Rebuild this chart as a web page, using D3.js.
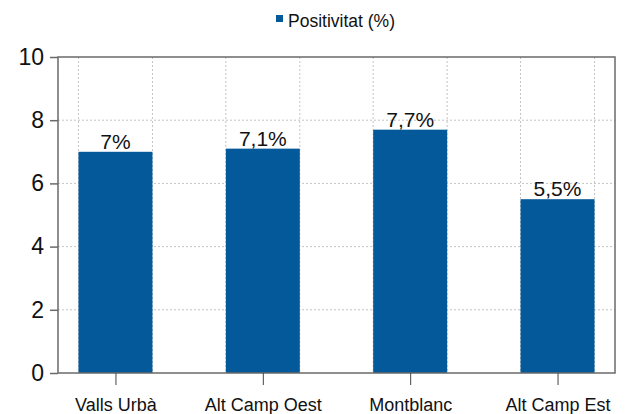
<!DOCTYPE html>
<html>
<head>
<meta charset="utf-8">
<script src="https://cdn.jsdelivr.net/npm/d3@7"></script>
<style>
  body { margin: 0; background: #fff; }
  svg { font-family: "Liberation Sans", Arial, sans-serif; }
</style>
</head>
<body>
<svg width="627" height="414"></svg>
<script>
// data
var categories = ["Valls Urbà", "Alt Camp Oest", "Montblanc", "Alt Camp Est"];
var values = [7, 7.1, 7.7, 5.5];
var valueLabels = ["7%", "7,1%", "7,7%", "5,5%"];
var yTicks = [0, 2, 4, 6, 8, 10];
var seriesName = "Positivitat (%)";

var svg = d3.select("svg"),
    margin = {top: 57, right: 12, bottom: 41, left: 58},
    width = +svg.attr("width") - margin.left - margin.right,
    height = +svg.attr("height") - margin.top - margin.bottom;

var barColor = "#03599a";

var x = d3.scalePoint()
    .domain(categories)
    .range([0, width])
    .padding(0.39);
var barW = 74;

var y = d3.scaleLinear()
    .domain([0, 10])
    .range([height, 0]);

var g = svg.append("g")
    .attr("transform", "translate(" + margin.left + "," + margin.top + ")");

// horizontal grid
g.append("g")
  .selectAll("line")
  .data(yTicks.filter(function(d) { return d > 0 && d < 10; }))
  .join("line")
    .attr("x1", 0).attr("x2", width)
    .attr("y1", function(d) { return y(d); })
    .attr("y2", function(d) { return y(d); })
    .attr("stroke", "#c4c4c4")
    .attr("stroke-dasharray", "2,2");

// vertical grid at bar edges
var edges = [];
categories.forEach(function(c) {
  edges.push(x(c) - barW / 2, x(c) + barW / 2);
});
g.append("g")
  .selectAll("line")
  .data(edges)
  .join("line")
    .attr("x1", function(d) { return d; })
    .attr("x2", function(d) { return d; })
    .attr("y1", 0).attr("y2", height)
    .attr("stroke", "#c4c4c4")
    .attr("stroke-dasharray", "2,2");

// bars
g.append("g")
  .selectAll("rect")
  .data(values)
  .join("rect")
    .attr("x", function(d, i) { return x(categories[i]) - barW / 2; })
    .attr("y", function(d) { return y(d); })
    .attr("width", barW)
    .attr("height", function(d) { return height - y(d); })
    .attr("fill", barColor);

// value labels
g.append("g")
  .selectAll("text")
  .data(values)
  .join("text")
    .attr("x", function(d, i) { return x(categories[i]); })
    .attr("y", function(d) { return y(d) - 3; })
    .attr("text-anchor", "middle")
    .attr("font-size", 21)
    .attr("fill", "#111")
    .text(function(d, i) { return valueLabels[i]; });

// frame
g.append("rect")
    .attr("width", width).attr("height", height)
    .attr("fill", "none")
    .attr("stroke", "#6a6a6a")
    .attr("stroke-width", 1.5);

// y axis
var yAxisG = g.append("g")
    .call(d3.axisLeft(y).tickValues(yTicks).tickSize(8).tickPadding(6));
yAxisG.select(".domain").remove();
yAxisG.selectAll("line").attr("stroke", "#6a6a6a").attr("stroke-width", 1.5);
yAxisG.selectAll("text").attr("font-size", 23).attr("fill", "#111")
    .attr("font-family", "Liberation Sans, Arial, sans-serif");

// x axis
var xAxisG = g.append("g")
    .attr("transform", "translate(0," + height + ")")
    .call(d3.axisBottom(x).tickSize(12).tickPadding(13));
xAxisG.select(".domain").remove();
xAxisG.selectAll("line").attr("stroke", "#444");
xAxisG.selectAll("text").attr("font-size", 18).attr("fill", "#111")
    .attr("font-family", "Liberation Sans, Arial, sans-serif");

// legend
var leg = svg.append("g").attr("transform", "translate(276,15)");
leg.append("rect").attr("width", 7).attr("height", 7).attr("fill", barColor);
leg.append("text")
    .attr("x", 12).attr("y", 12)
    .attr("font-size", 17.5)
    .attr("fill", "#111")
    .text(seriesName);
</script>
</body>
</html>
